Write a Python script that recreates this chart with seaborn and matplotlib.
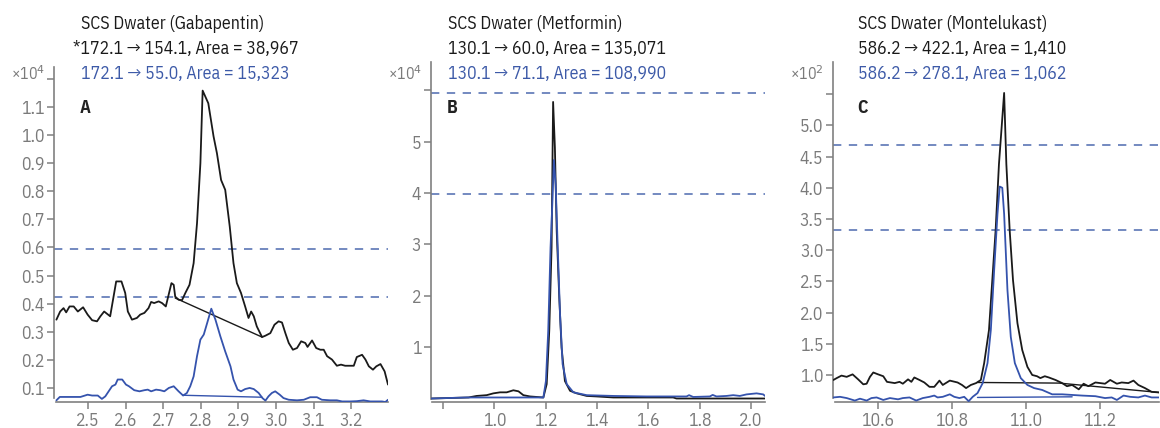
import matplotlib
matplotlib.use("Agg")
import matplotlib.pyplot as plt
from matplotlib import font_manager as fm
import seaborn as sns
import pandas as pd

# ---------------- data ----------------
# Panel A: Gabapentin (x: acquisition time, min; y: counts x10^4)
a_black_x = [2.416, 2.426, 2.435, 2.442, 2.451, 2.462, 2.473, 2.487, 2.499, 2.511, 2.524, 2.533, 2.543,
             2.559, 2.575, 2.589, 2.599, 2.606, 2.617, 2.630, 2.639, 2.650, 2.661, 2.668, 2.676, 2.688,
             2.697, 2.707, 2.722, 2.728, 2.732, 2.741, 2.750, 2.759, 2.770, 2.781, 2.790, 2.799, 2.805,
             2.820, 2.834, 2.843, 2.854, 2.865, 2.877, 2.887, 2.896, 2.907, 2.918, 2.927, 2.934, 2.941,
             2.949, 2.963, 2.972, 2.985, 2.996, 3.007, 3.016, 3.025, 3.034, 3.045, 3.056, 3.067, 3.078,
             3.084, 3.096, 3.107, 3.118, 3.127, 3.136, 3.149, 3.162, 3.173, 3.184, 3.207, 3.215, 3.229,
             3.238, 3.247, 3.258, 3.267, 3.278, 3.289, 3.298]
a_black_y = [0.343, 0.372, 0.384, 0.369, 0.390, 0.390, 0.372, 0.387, 0.361, 0.341, 0.337, 0.355, 0.372,
             0.355, 0.479, 0.479, 0.438, 0.372, 0.343, 0.349, 0.361, 0.367, 0.384, 0.406, 0.402, 0.408,
             0.402, 0.390, 0.473, 0.467, 0.425, 0.414, 0.412, 0.438, 0.467, 0.544, 0.686, 0.900, 1.158,
             1.113, 0.995, 0.935, 0.840, 0.805, 0.675, 0.544, 0.473, 0.438, 0.390, 0.349, 0.372, 0.355,
             0.319, 0.281, 0.286, 0.295, 0.325, 0.337, 0.333, 0.295, 0.260, 0.236, 0.242, 0.266, 0.260,
             0.246, 0.269, 0.242, 0.236, 0.236, 0.213, 0.201, 0.179, 0.183, 0.179, 0.179, 0.210, 0.218,
             0.201, 0.177, 0.165, 0.177, 0.185, 0.159, 0.112]
a_blue_x = [2.416, 2.425, 2.444, 2.480, 2.499, 2.511, 2.526, 2.537, 2.546, 2.564, 2.573, 2.579, 2.591,
            2.601, 2.609, 2.623, 2.637, 2.650, 2.659, 2.668, 2.681, 2.692, 2.703, 2.715, 2.728, 2.741,
            2.753, 2.763, 2.772, 2.781, 2.790, 2.799, 2.808, 2.817, 2.828, 2.839, 2.852, 2.865, 2.879,
            2.887, 2.898, 2.907, 2.918, 2.930, 2.941, 2.954, 2.964, 2.972, 2.980, 2.989, 2.998, 3.010,
            3.020, 3.034, 3.056, 3.074, 3.091, 3.109, 3.122, 3.144, 3.162, 3.176, 3.198, 3.215, 3.233,
            3.251, 3.269, 3.282, 3.291, 3.298]
a_blue_y = [0.056, 0.068, 0.068, 0.068, 0.076, 0.073, 0.073, 0.061, 0.070, 0.106, 0.112, 0.130, 0.130,
            0.112, 0.106, 0.092, 0.088, 0.092, 0.094, 0.088, 0.094, 0.092, 0.088, 0.100, 0.106, 0.088,
            0.073, 0.082, 0.106, 0.141, 0.213, 0.272, 0.290, 0.331, 0.382, 0.343, 0.284, 0.230, 0.177,
            0.130, 0.094, 0.088, 0.096, 0.100, 0.096, 0.082, 0.064, 0.055, 0.070, 0.082, 0.088, 0.076,
            0.064, 0.058, 0.056, 0.058, 0.067, 0.067, 0.058, 0.056, 0.056, 0.052, 0.052, 0.053, 0.056,
            0.052, 0.052, 0.052, 0.050, 0.058]
a_black_base_x = [2.732, 2.963]
a_black_base_y = [0.420, 0.281]
a_blue_base_x = [2.753, 2.963]
a_blue_base_y = [0.074, 0.067]
a_dashed = [0.595, 0.424]

# Panel B: Metformin (counts x10^4)
b_black_x = [0.756, 0.899, 0.931, 0.970, 0.996, 1.022, 1.048, 1.074, 1.094, 1.113, 1.139, 1.191, 1.204,
             1.214, 1.223, 1.229, 1.236, 1.243, 1.253, 1.262, 1.275, 1.295, 1.321, 1.360, 1.399, 1.464,
             1.697, 1.710, 2.055]
b_black_y = [0.0, 0.02, 0.05, 0.065, 0.10, 0.12, 0.12, 0.16, 0.14, 0.065, 0.04, 0.02, 0.28,
             1.32, 2.94, 5.77, 4.88, 3.26, 1.96, 0.99, 0.34, 0.15, 0.10, 0.05, 0.04, 0.02,
             0.02, 0.0, 0.0]
b_blue_x = [0.756, 0.892, 1.191, 1.201, 1.210, 1.219, 1.227, 1.232, 1.239, 1.247, 1.256, 1.266, 1.282,
            1.308, 1.360, 1.464, 1.594, 1.749, 1.759, 1.775, 1.840, 1.851, 1.866, 1.905, 1.931, 1.957,
            1.983, 2.022, 2.048, 2.055]
b_blue_y = [0.0, 0.02, 0.02, 0.34, 1.32, 2.94, 3.92, 4.64, 4.16, 2.94, 1.64, 0.67, 0.28,
            0.12, 0.065, 0.05, 0.04, 0.04, 0.065, 0.03, 0.04, 0.07, 0.04, 0.05, 0.065, 0.05,
            0.08, 0.10, 0.08, 0.05]
b_dashed = [5.95, 3.97]

# Panel C: Montelukast (counts x10^2)
c_black_x = [10.479, 10.488, 10.501, 10.515, 10.531, 10.546, 10.560, 10.569, 10.578, 10.587, 10.600,
             10.614, 10.624, 10.645, 10.658, 10.667, 10.681, 10.690, 10.698, 10.712, 10.725, 10.739,
             10.752, 10.766, 10.775, 10.794, 10.815, 10.827, 10.838, 10.851, 10.865, 10.878, 10.887,
             10.900, 10.909, 10.918, 10.927, 10.941, 10.947, 10.956, 10.965, 10.977, 10.990, 11.004,
             11.017, 11.030, 11.039, 11.051, 11.062, 11.080, 11.098, 11.111, 11.125, 11.143, 11.156,
             11.169, 11.188, 11.201, 11.214, 11.228, 11.246, 11.259, 11.277, 11.291, 11.304, 11.322,
             11.340, 11.360]
c_black_y = [0.92, 0.95, 0.99, 0.97, 1.01, 0.93, 0.85, 0.86, 0.97, 1.04, 1.01,
             0.98, 0.89, 0.87, 0.89, 0.86, 0.93, 0.89, 0.96, 0.92, 0.88, 0.81,
             0.81, 0.91, 0.84, 0.91, 0.88, 0.84, 0.79, 0.84, 0.87, 0.92, 1.19,
             1.72, 2.52, 3.32, 4.38, 5.52, 4.38, 3.32, 2.52, 1.83, 1.40, 1.13,
             1.00, 0.98, 0.95, 0.98, 0.96, 0.92, 0.87, 0.82, 0.84, 0.77, 0.86,
             0.82, 0.88, 0.87, 0.86, 0.92, 0.86, 0.88, 0.87, 0.91, 0.84, 0.79,
             0.73, 0.72]
c_blue_x = [10.479, 10.497, 10.515, 10.537, 10.551, 10.569, 10.582, 10.596, 10.614, 10.632, 10.654,
            10.667, 10.685, 10.703, 10.721, 10.739, 10.752, 10.761, 10.775, 10.794, 10.806, 10.820,
            10.833, 10.845, 10.856, 10.869, 10.883, 10.896, 10.905, 10.914, 10.923, 10.929, 10.936,
            10.941, 10.950, 10.959, 10.970, 10.986, 11.004, 11.022, 11.044, 11.071, 11.098, 11.125,
            11.152, 11.188, 11.214, 11.232, 11.246, 11.264, 11.282, 11.304, 11.322, 11.340, 11.360]
c_blue_y = [0.64, 0.65, 0.63, 0.59, 0.62, 0.59, 0.63, 0.64, 0.60, 0.63, 0.61,
            0.63, 0.64, 0.59, 0.63, 0.65, 0.67, 0.64, 0.65, 0.69, 0.65, 0.63,
            0.65, 0.58, 0.65, 0.71, 0.87, 1.19, 1.72, 2.68, 3.58, 4.02, 4.00,
            3.58, 2.36, 1.61, 1.19, 0.95, 0.84, 0.79, 0.76, 0.69, 0.69, 0.68,
            0.67, 0.66, 0.63, 0.64, 0.60, 0.67, 0.65, 0.64, 0.67, 0.64, 0.64]
c_black_base_x = [10.869, 11.090, 11.360]
c_black_base_y = [0.88, 0.87, 0.72]
c_blue_base_x = [10.869, 11.125]
c_blue_base_y = [0.64, 0.65]
c_dashed = [4.69, 3.32]

titles = ["SCS Dwater (Gabapentin)", "SCS Dwater (Metformin)", "SCS Dwater (Montelukast)"]
line1 = ["*172.1 \u2192 154.1, Area = 38,967", "130.1 \u2192 60.0, Area = 135,071",
         "586.2 \u2192 422.1, Area = 1,410"]
line2 = ["172.1 \u2192 55.0, Area = 15,323", "130.1 \u2192 71.1, Area = 108,990",
         "586.2 \u2192 278.1, Area = 1,062"]
letters = ["A", "B", "C"]
scales = ["\u00d710$^4$", "\u00d710$^4$", "\u00d710$^2$"]

a_yticks = [0.1, 0.2, 0.3, 0.4, 0.5, 0.6, 0.7, 0.8, 0.9, 1.0, 1.1, 1.2]
a_yticklabels = ["0.1", "0.2", "0.3", "0.4", "0.5", "0.6", "0.7", "0.8", "0.9", "1.0", "1.1", ""]
a_xticks = [2.5, 2.6, 2.7, 2.8, 2.9, 3.0, 3.1, 3.2]
a_xticklabels = ["2.5", "2.6", "2.7", "2.8", "2.9", "3.0", "3.1", "3.2"]
b_yticks = [1, 2, 3, 4, 5, 6]
b_yticklabels = ["1", "2", "3", "4", "5", ""]
b_xticks = [0.8, 1.0, 1.2, 1.4, 1.6, 1.8, 2.0]
b_xticklabels = ["", "1.0", "1.2", "1.4", "1.6", "1.8", "2.0"]
c_yticks = [1.0, 1.5, 2.0, 2.5, 3.0, 3.5, 4.0, 4.5, 5.0, 5.5]
c_yticklabels = ["1.0", "1.5", "2.0", "2.5", "3.0", "3.5", "4.0", "4.5", "5.0", ""]
c_xticks = [10.6, 10.8, 11.0, 11.2]
c_xticklabels = ["10.6", "10.8", "11.0", "11.2"]

# ---------------- style ----------------
sns.set_theme(style="white")
names = {f.name for f in fm.fontManager.ttflist}
cond = None
for cand in ["IBM Plex Sans Condensed", "Fira Sans Condensed", "Roboto Condensed", "Barlow Condensed"]:
    if cand in names:
        cond = cand
        break
fams = ([cond] if cond else []) + ["DejaVu Sans"]
plt.rcParams["font.family"] = fams
plt.rcParams["axes.unicode_minus"] = False
FS = 12.8 if cond else 10.0

GRAY = "#7a7a7a"
SPINE = "#808080"
BLUE = "#3553ad"
BLUE_TXT = "#3d5aa8"
DASH = "#5b76b5"

W, H = 1160, 428
fig = plt.figure(figsize=(W / 100, H / 100), dpi=100)

# pixel layout: (left, right, top, bottom), xlim, ylim, spine bounds
panels = [
    dict(px=(54, 388, 67, 402), xlim=(2.4096, 3.298), ylim=(0.050, 1.242), ybound=(0.064, 1.242),
         xbound=(2.415, 3.298),
         series=[(a_black_x, a_black_y, "k"), (a_blue_x, a_blue_y, BLUE)],
         bases=[(a_black_base_x, a_black_base_y, "k"), (a_blue_base_x, a_blue_base_y, BLUE)],
         dashed=a_dashed, yt=(a_yticks, a_yticklabels), xt=(a_xticks, a_xticklabels),
         tx=81, tx1=73, scale_right=45),
    dict(px=(431, 765, 62, 402), xlim=(0.753, 2.055), ylim=(-0.068, 6.547), ybound=(0.0, 6.547),
         xbound=(0.757, 2.055),
         series=[(b_black_x, b_black_y, "k"), (b_blue_x, b_blue_y, BLUE)],
         bases=[], dashed=b_dashed, yt=(b_yticks, b_yticklabels), xt=(b_xticks, b_xticklabels),
         tx=448, tx1=448, scale_right=422),
    dict(px=(833, 1159, 62, 402), xlim=(10.478, 11.36), ylim=(0.567, 6.016), ybound=(0.631, 6.016),
         xbound=(10.484, 11.36),
         series=[(c_black_x, c_black_y, "k"), (c_blue_x, c_blue_y, BLUE)],
         bases=[(c_black_base_x, c_black_base_y, "k"), (c_blue_base_x, c_blue_base_y, BLUE)],
         dashed=c_dashed, yt=(c_yticks, c_yticklabels), xt=(c_xticks, c_xticklabels),
         tx=858, tx1=858, scale_right=824),
]

for i, p in enumerate(panels):
    l, r, t, b = p["px"]
    ax = fig.add_axes([l / W, 1 - b / H, (r - l) / W, (b - t) / H])
    ax.set_facecolor("none")
    for xs, ys, col in p["series"]:
        df = pd.DataFrame({"x": xs, "y": ys})
        sns.lineplot(data=df, x="x", y="y", ax=ax, color=col, lw=1.3, sort=False,
                     estimator=None, zorder=3 if col == "k" else 4)
    for xs, ys, col in p["bases"]:
        df = pd.DataFrame({"x": xs, "y": ys})
        sns.lineplot(data=df, x="x", y="y", ax=ax, color=col, lw=1.0, sort=False,
                     estimator=None, zorder=3)
    for dv in p["dashed"]:
        ax.axhline(dv, color=DASH, lw=1.2, ls=(0, (5, 4.5)), zorder=2)
    ax.set_xlim(*p["xlim"])
    ax.set_ylim(*p["ylim"])
    ax.set_xlabel("")
    ax.set_ylabel("")
    ax.set_yticks(p["yt"][0])
    ax.set_yticklabels(p["yt"][1])
    ax.set_xticks(p["xt"][0])
    ax.set_xticklabels(p["xt"][1])
    for s in ["top", "right"]:
        ax.spines[s].set_visible(False)
    ax.spines["left"].set_bounds(*p["ybound"])
    ax.spines["bottom"].set_bounds(*p["xbound"])
    for s in ["left", "bottom"]:
        ax.spines[s].set_color(SPINE)
        ax.spines[s].set_linewidth(1.2)
    ax.tick_params(axis="both", which="both", direction="out", length=5, width=1.1,
                   color=SPINE, labelcolor=GRAY, labelsize=FS, pad=2,
                   left=True, bottom=True)
    ax.grid(False)
    if ax.get_legend():
        ax.get_legend().remove()

    # header texts
    fig.text(p["tx"] / W, 1 - 24 / H, titles[i], fontsize=FS, color="#1a1a1a", va="center", ha="left")
    fig.text(p["tx1"] / W, 1 - 49 / H, line1[i], fontsize=FS, color="#1a1a1a", va="center", ha="left")
    fig.text(p["tx"] / W, 1 - 74 / H, line2[i], fontsize=FS, color=BLUE_TXT, va="center", ha="left")
    fig.text(p["scale_right"] / W, 1 - 74 / H, scales[i], fontsize=FS - 1.5, color=GRAY,
             va="center", ha="right")
    fig.text((p["tx"] - 1) / W, 1 - 108 / H, letters[i], fontsize=FS, color="#222222",
             fontweight="bold", va="center", ha="left")

fig.savefig("out.png", dpi=100)
